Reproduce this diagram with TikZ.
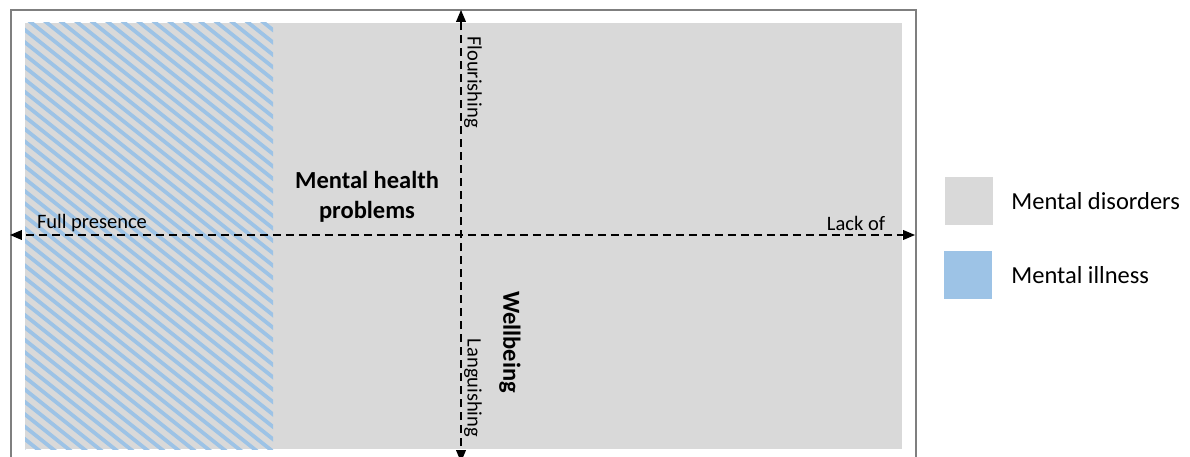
\documentclass[tikz,border=0pt]{standalone}
\usepackage{fontspec}
\setmainfont{Carlito}
\usetikzlibrary{arrows,positioning}

\definecolor{disgrey}{HTML}{D9D9D9}
\definecolor{illblue}{HTML}{9DC3E6}
\definecolor{framegrey}{HTML}{7F7F7F}

\begin{document}
\begin{tikzpicture}[x=1pt,y=-1pt,
    axis/.style={<->,>=triangle 45,line width=1.8pt,dash pattern=on 8pt off 5pt},
    smalllab/.style={font=\fontsize{20.5}{24}\selectfont,inner sep=0pt},
    biglab/.style={font=\fontsize{24.5}{30}\selectfont\bfseries,inner sep=0pt,align=center},
    legendbox/.style={minimum size=48pt,inner sep=0pt}]
    \useasboundingbox (0,0) rectangle (1190,457);
    % quadrant field
    \fill [disgrey] (25,23) rectangle (902,449);
    \begin{scope}
      \clip (25,23) rectangle (273,449);
      \foreach \s in {-530,-514.5,...,285}
        \draw [illblue,line width=3.8pt] (\s,20) -- ++(600,480);
    \end{scope}
    \draw [framegrey,line width=2pt] (11,457) -- (11,10) -- (916,10) -- (916,457);
    % axes
    \coordinate (west) at (10,235);
    \coordinate (east) at (915,235);
    \coordinate (north) at (461,10);
    \coordinate (south) at (461,462);
    \draw [axis] (west) -- (east);
    \draw [axis] (south) -- (north);
    \node (fullp) at (92,223) [smalllab] {Full presence};
    \node (lackof) at (856,223) [smalllab] {Lack of};
    \node (flour) at (473,82) [smalllab,rotate=-90] {Flourishing};
    \node (langu) at (473,388) [smalllab,rotate=-90] {Languishing};
    \node (wellb) at (510,342) [biglab,rotate=-90] {Wellbeing};
    \node (mhp) at (367,197) [biglab] {Mental health\\problems};
    % legend
    \node (leggrey) at (969,201) [legendbox,fill=disgrey] {};
    \node (legblue) at (968,275) [legendbox,fill=illblue] {};
    \node (txtgrey) [right=18pt of leggrey,font=\fontsize{24.5}{30}\selectfont,inner sep=0pt] {Mental disorders};
    \node (txtblue) [right=19pt of legblue,font=\fontsize{24.5}{30}\selectfont,inner sep=0pt] {Mental illness};
  \end{tikzpicture}
\end{document}
